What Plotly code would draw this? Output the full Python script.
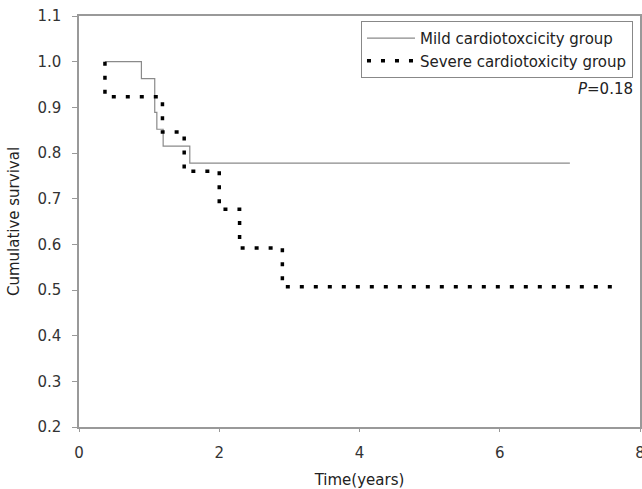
import plotly.graph_objects as go

# Mild group (step function, horizontal-then-vertical)
mild_t = [0.37, 0.89, 1.08, 1.11, 1.20, 1.58, 7.0]
mild_s = [1.000, 0.963, 0.889, 0.852, 0.815, 0.778, 0.778]

# Severe group
severe_t = [0.37, 0.37, 1.19, 1.50, 2.00, 2.29, 2.90, 7.68]
severe_s = [1.000, 0.923, 0.846, 0.760, 0.677, 0.592, 0.507, 0.507]

y_ticks = [0.2, 0.3, 0.4, 0.5, 0.6, 0.7, 0.8, 0.9, 1.0, 1.1]
x_ticks = [0, 2, 4, 6, 8]

font = "DejaVu Sans, Liberation Sans, Arial, sans-serif"
FS = 15

fig = go.Figure()
fig.add_trace(go.Scatter(
    x=mild_t, y=mild_s, mode="lines", line_shape="hv",
    line=dict(color="#8a8a8a", width=1.2),
    name="Mild cardiotoxcicity group"))
fig.add_trace(go.Scatter(
    x=severe_t, y=severe_s, mode="lines", line_shape="hv",
    line=dict(color="black", width=3.5, dash="4px,10px"),
    name="Severe cardiotoxicity group"))

fig.add_annotation(x=0.991, y=0.94, xref="paper", yref="y",
                   text="<i>P</i>=0.18", showarrow=False, xanchor="right",
                   font=dict(family=font, size=FS, color="#222"))

axis_common = dict(showline=True, linecolor="#999", linewidth=1.5, mirror=True,
                   ticks="outside", tickcolor="#999", showgrid=False, zeroline=False,
                   automargin=False, ticklabeloverflow="allow",
                   tickfont=dict(family=font, size=FS, color="#333"))

fig.update_layout(
    width=642, height=489,
    margin=dict(l=79, r=2, t=16, b=62),
    plot_bgcolor="white", paper_bgcolor="white",
    font=dict(family=font, size=FS, color="#222"),
    xaxis=dict(range=[0, 8], tickvals=x_ticks, ticklen=3, ticklabelstandoff=8,
               title=dict(text="Time(years)", standoff=14, font=dict(size=FS)),
               **axis_common),
    yaxis=dict(range=[0.2, 1.1], tickvals=y_ticks, tickformat=".1f", ticklen=5,
               ticklabelstandoff=8,
               title=dict(text="Cumulative survival", standoff=14, font=dict(size=FS)),
               **axis_common),
    legend=dict(x=0.9875, y=0.988, xanchor="right", yanchor="top",
                bgcolor="white", bordercolor="#888", borderwidth=1,
                font=dict(family=font, size=FS), tracegroupgap=0,
                itemwidth=48),
    showlegend=True,
)

fig.write_html("out.html", config={"displayModeBar": False},
               post_script="document.body.style.margin='0';")
